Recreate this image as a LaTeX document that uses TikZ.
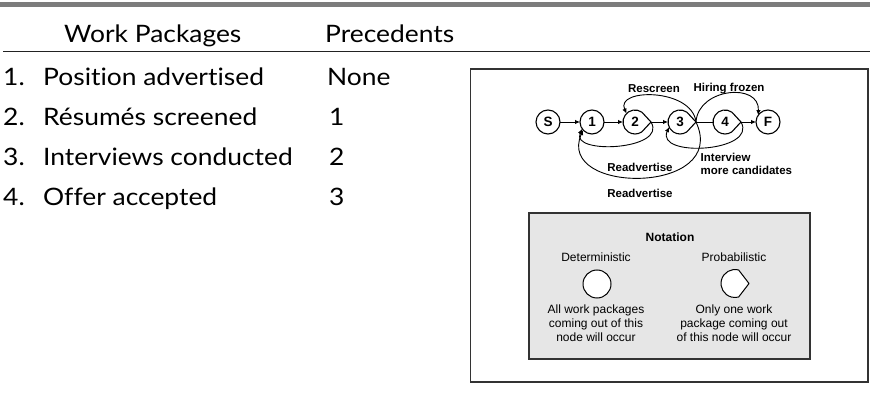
\documentclass[tikz,border=0pt]{standalone}
\usepackage{fontspec}
\setmainfont{Lato}[FakeStretch=1.1, Ligatures=NoCommon]
\newfontfamily\diagfont{Liberation Sans}
\usetikzlibrary{arrows.meta,calc}

\definecolor{barcol}{HTML}{7C7C7C}
\definecolor{rulecol}{HTML}{222222}
\definecolor{framecol}{HTML}{333333}
\definecolor{notefill}{HTML}{E6E6E6}

\begin{document}
\begin{tikzpicture}[x=1pt,y=1pt,
  tabtext/.style={font=\fontsize{24}{28}\selectfont, anchor=base west, inner sep=0},
  netnode/.style={circle, minimum size=24pt, inner sep=0, outer sep=0,
    font=\diagfont\bfseries\fontsize{13.5}{15}\selectfont},
  detnode/.style={netnode, draw, line width=1.1pt},
  probnode/.style={netnode},
  outline/.style={line width=1.1pt, line join=round},
  conn/.style={line width=0.9pt},
  arr/.style={conn, -{Latex[length=5pt,width=4.5pt]}},
  lbl/.style={font=\diagfont\bfseries\fontsize{11.5}{13.5}\selectfont, inner sep=0},
  note/.style={font=\diagfont\fontsize{12}{14}\selectfont, align=center, inner sep=0},
  keynode/.style={circle, minimum size=28pt, inner sep=0, outer sep=0},
]
\useasboundingbox (0,0) rectangle (870,-395);

% top bar and header rule
\fill[barcol] (0,-2.5) rectangle (870,-7.5);
\draw[line width=1.2pt, rulecol] (3,-51.7) -- (870,-51.7);

% table of work packages
\node[tabtext] (hwp)  at (64,-43)  {Work Packages};
\node[tabtext] (hpr)  at (325,-43) {Precedents};
\node[tabtext] (r1n)  at (3,-86)   {1.};
\node[tabtext] (r1t)  at (43,-86)  {Position advertised};
\node[tabtext] (r1p)  at (327,-86) {None};
\node[tabtext] (r2n)  at (3,-126)  {2.};
\node[tabtext] (r2t)  at (43,-126) {Résumés screened};
\node[tabtext] (r2p)  at (329,-126) {1};
\node[tabtext] (r3n)  at (3,-166)  {3.};
\node[tabtext] (r3t)  at (43,-166) {Interviews conducted};
\node[tabtext] (r3p)  at (329,-166) {2};
\node[tabtext] (r4n)  at (3,-206)  {4.};
\node[tabtext] (r4t)  at (43,-206) {Offer accepted};
\node[tabtext] (r4p)  at (329,-206) {3};

% frame around the network
\draw[line width=1.3pt, framecol] (470.5,-69) rectangle (868,-382);

% network nodes
\node[detnode]  (nS) at (548,-122) {S};
\node[detnode]  (n1) at (592,-122) {1};
\node[probnode] (n2) at (635,-122) {2};
\node[probnode] (n3) at (680,-122) {3};
\node[probnode] (n4) at (725,-122) {4};
\node[detnode]  (nF) at (768,-122) {F};

% pointed tips of the probabilistic nodes
\coordinate (t2) at ($(n2.center)+(16,0)$);
\coordinate (t3) at ($(n3.center)+(16,0)$);
\coordinate (t4) at ($(n4.center)+(16,0)$);
\draw[outline] (n2.55) arc[start angle=55, end angle=305, radius=12] -- (t2) -- cycle;
\draw[outline] (n3.55) arc[start angle=55, end angle=305, radius=12] -- (t3) -- cycle;
\draw[outline] (n4.55) arc[start angle=55, end angle=305, radius=12] -- (t4) -- cycle;

% forward connectors
\draw[arr] (nS) -- (n1);
\draw[arr] (n1) -- (n2);
\draw[arr] (t2) -- (n3);
\draw[conn] (t3) -- (n4);
\draw[arr] (t4) -- (nF);

% loops
\draw[arr] (t3) .. controls (692,-88) and (615,-88) .. (n2.135);
\draw[arr] (t3) .. controls (698,-88) and (760,-82) .. (nF.145);
\draw[arr] (t2) .. controls (668,-150) and (570,-155) .. (n1.215);
\draw[arr] (t3) .. controls (730,-195) and (555,-195) .. (n1.222);
\draw[arr] (t4) .. controls (758,-152) and (655,-158) .. (n3.205);

% loop labels
\node[lbl] (lres)  at (654,-89)  {Rescreen};
\node[lbl] (lhir)  at (729,-89)  {Hiring frozen};
\node[lbl] (lrad1) at (640,-167) {Readvertise};
\node[lbl] (lrad2) at (640,-193) {Readvertise};
\node[lbl, anchor=west, align=left] (lint) at (700.5,-164) {Interview\\more candidates};

% notation key
\draw[line width=1.3pt, framecol, fill=notefill] (529,-213) rectangle (810,-359);
\node[note, font=\diagfont\bfseries\fontsize{12}{14}\selectfont] (knt) at (670,-237) {Notation};
\node[note] (kdet) at (596,-257) {Deterministic};
\node[note] (kpro) at (734,-257) {Probabilistic};
\node[keynode, draw, fill=white, line width=1pt] (kc) at (597,-284) {};
\node[keynode] (kp) at (735,-283.5) {};
\coordinate (kt) at ($(kp.center)+(14,0)$);
\draw[line width=1pt, line join=round, fill=white] (kp.75) arc[start angle=75, end angle=285, radius=14] -- (kt) -- cycle;
\node[note] (kdtx) at (596,-323) {All work packages\\coming out of this\\node will occur};
\node[note] (kptx) at (734,-323) {Only one work\\package coming out\\of this node will occur};

\end{tikzpicture}
\end{document}
